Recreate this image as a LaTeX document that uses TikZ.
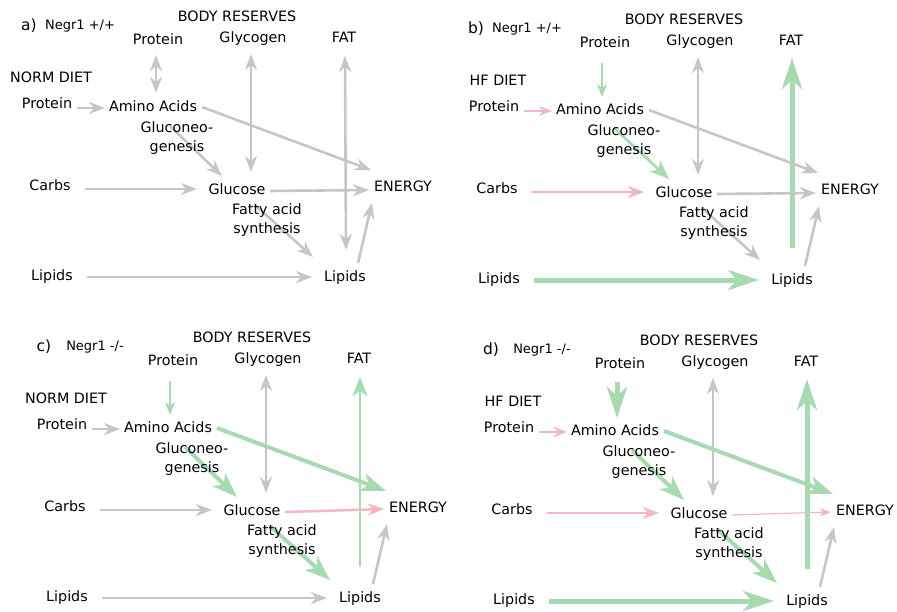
\documentclass[tikz,border=0pt]{standalone}
\usepackage{fontspec}
\setmainfont{DejaVu Sans}
\usetikzlibrary{arrows.meta,calc,backgrounds}
\definecolor{gr}{HTML}{C6C6C6}
\definecolor{gn}{HTML}{A8DAB2}
\definecolor{pk}{HTML}{F5B7BF}
\tikzset{
  lbl/.style={inner sep=0pt, text height=10.4pt, text depth=3.2pt, font=\fontsize{14.3}{17}\selectfont},
  two/.style={inner sep=0pt, align=center, font=\fontsize{14.3}{18.5}\selectfont},
  gar/.style={draw=gr, line width=2.6pt, -{Stealth[length=16pt,width=12pt,inset=5pt]}},
  gar2/.style={draw=gr, line width=2.6pt, {Stealth[length=16pt,width=12pt,inset=5pt]}-{Stealth[length=16pt,width=12pt,inset=5pt]}},
  gnthin/.style={draw=gn, line width=2pt, -{Stealth[length=13pt,width=10pt,inset=4pt]}},
  pkthin/.style={draw=pk, line width=2pt, -{Stealth[length=13pt,width=10pt,inset=4pt]}},
  pkmed/.style={draw=pk, line width=2.5pt, -{Stealth[length=16pt,width=12pt,inset=5pt]}},
  pkfine/.style={draw=pk, line width=1.2pt, -{Stealth[length=11pt,width=8pt,inset=3pt]}},
  gnmed/.style={draw=gn, line width=2.7pt, -{Stealth[length=19pt,width=15pt,inset=5pt]}},
  gnthick/.style={draw=gn, line width=4pt, -{Stealth[length=25pt,width=18pt,inset=7pt]}},
  gnbig/.style={draw=gn, line width=5pt, -{Stealth[length=31pt,width=20pt,inset=9pt]}},
}
\newcommand\panelnodes[3]{%
  \node[font=\fontsize{15.5}{17}\selectfont, inner sep=0pt] (lab) at (29,26) {#1};
  \node[font=\fontsize{13}{15}\selectfont, inner sep=0pt] (ttl) at (80,26) {#2};
  \node[lbl] (BR) at (237,18) {BODY RESERVES};
  \node[lbl] (PR) at (158,41) {Protein};
  \node[lbl] (GY) at (253,39) {Glycogen};
  \node[lbl] (FAT) at (344,39) {FAT};
  \node[lbl] (DIET) at (51,79) {#3};
  \node[lbl] (PD) at (47,105) {Protein};
  \node[lbl] (AA) at (153,108) {Amino Acids};
  \node[two] (GN) at (177,138) {Gluconeo-\\genesis};
  \node[lbl] (CB) at (50,187) {Carbs};
  \node[lbl] (GL) at (237,191) {Glucose};
  \node[lbl] (EN) at (403,188) {ENERGY};
  \node[two] (FA) at (267,220) {Fatty acid\\synthesis};
  \node[lbl] (LD) at (52,277) {Lipids};
  \node[lbl] (LR) at (345,278) {Lipids};
}
\begin{document}
\begin{tikzpicture}[x=1pt,y=-1pt]
\begin{pgfonlayer}{background}
\fill[white] (0,0) rectangle (897,611);
\end{pgfonlayer}
\useasboundingbox (0,0) rectangle (897,611);

% ---------- panel a ----------
\begin{scope}[shift={(0,0)}, name prefix=a-]
\panelnodes{a)}{Negr1 +/+}{NORM DIET}
\begin{pgfonlayer}{background}
\draw[gar2] ($(PR)+(-2,14)$) -- ($(AA)+(3,-15)$);
\draw[gar2] ($(GY)+(-2,15)$) -- ($(GL)+(14,-19)$);
\draw[gar2] ($(FAT)+(1,17)$) -- ($(LR)+(1,-28)$);
\draw[gar] ($(PD)+(30,3)$) -- ($(AA)+(-48,0)$);
\draw[gar] ($(AA)+(49,-1)$) -- ($(EN)+(-32,-18)$);
\draw[gar] ($(AA)+(17,18)$) -- ($(GL)+(-15,-15)$);
\draw[gar] ($(CB)+(35,2)$) -- ($(GL)+(-40,-2)$);
\draw[gar] ($(GL)+(33,0)$) -- ($(EN)+(-34,2)$);
\draw[gar] ($(GL)+(18,14)$) -- ($(LR)+(-32,-21)$);
\draw[gar] ($(LD)+(35,0)$) -- ($(LR)+(-33,-1)$);
\draw[gar] ($(LR)+(13,-15)$) -- ($(EN)+(-31,15)$);
\end{pgfonlayer}
\end{scope}

% ---------- panel b ----------
\begin{scope}[shift={(447,3)}, name prefix=b-]
\panelnodes{b)}{Negr1 +/+}{HF DIET}
\begin{pgfonlayer}{background}
\draw[gnthin] ($(PR)+(-3,19)$) -- ($(AA)+(2,-14)$);
\draw[gar2] ($(GY)+(-2,15)$) -- ($(GL)+(14,-19)$);
\draw[gnbig] ($(LR)+(0,-33)$) -- ($(FAT)+(1,16)$);
\draw[pkthin] ($(PD)+(30,3)$) -- ($(AA)+(-48,0)$);
\draw[gar] ($(AA)+(49,-1)$) -- ($(EN)+(-32,-18)$);
\draw[gnmed] ($(AA)+(14,17)$) -- ($(GL)+(-15,-15)$);
\draw[pkmed] ($(CB)+(35,2)$) -- ($(GL)+(-40,-2)$);
\draw[gar] ($(GL)+(33,0)$) -- ($(EN)+(-34,2)$);
\draw[gar] ($(GL)+(18,14)$) -- ($(LR)+(-32,-21)$);
\draw[gnbig] ($(LD)+(35,0)$) -- ($(LR)+(-33,-1)$);
\draw[gar] ($(LR)+(13,-15)$) -- ($(EN)+(-31,15)$);
\end{pgfonlayer}
\end{scope}

% ---------- panel c ----------
\begin{scope}[shift={(15,321)}, name prefix=c-]
\panelnodes{c)}{Negr1 -/-}{NORM DIET}
\begin{pgfonlayer}{background}
\draw[gnthin] ($(PR)+(-3,19)$) -- ($(AA)+(2,-14)$);
\draw[gar2] ($(GY)+(-2,15)$) -- ($(GL)+(14,-19)$);
\draw[gnmed] ($(LR)+(0,-33)$) -- ($(FAT)+(1,17)$);
\draw[gar] ($(PD)+(30,3)$) -- ($(AA)+(-48,0)$);
\draw[gnthick] ($(AA)+(49,-1)$) -- ($(EN)+(-32,-18)$);
\draw[gnthick] ($(AA)+(17,18)$) -- ($(GL)+(-15,-15)$);
\draw[gar] ($(CB)+(35,2)$) -- ($(GL)+(-40,-2)$);
\draw[pkmed] ($(GL)+(33,0)$) -- ($(EN)+(-34,0)$);
\draw[gnthick] ($(GL)+(18,14)$) -- ($(LR)+(-30,-19)$);
\draw[gar] ($(LD)+(35,0)$) -- ($(LR)+(-33,-1)$);
\draw[gar] ($(LR)+(13,-15)$) -- ($(EN)+(-31,15)$);
\end{pgfonlayer}
\end{scope}

% ---------- panel d ----------
\begin{scope}[shift={(462,324)}, name prefix=d-]
\panelnodes{d)}{Negr1 -/-}{HF DIET}
\begin{pgfonlayer}{background}
\draw[gnbig] ($(PR)+(-3,17)$) -- ($(AA)+(2,-14)$);
\draw[gar2] ($(GY)+(-2,15)$) -- ($(GL)+(14,-19)$);
\draw[gnbig] ($(LR)+(0,-33)$) -- ($(FAT)+(1,16)$);
\draw[pkthin] ($(PD)+(30,3)$) -- ($(AA)+(-48,0)$);
\draw[gnthick] ($(AA)+(49,-1)$) -- ($(EN)+(-32,-18)$);
\draw[gnthick] ($(AA)+(17,18)$) -- ($(GL)+(-15,-15)$);
\draw[pkmed] ($(CB)+(35,2)$) -- ($(GL)+(-40,-2)$);
\draw[pkfine] ($(GL)+(33,0)$) -- ($(EN)+(-34,0)$);
\draw[gnthick] ($(GL)+(18,14)$) -- ($(LR)+(-30,-19)$);
\draw[gnbig] ($(LD)+(35,0)$) -- ($(LR)+(-33,-1)$);
\draw[gar] ($(LR)+(13,-15)$) -- ($(EN)+(-31,15)$);
\end{pgfonlayer}
\end{scope}
\end{tikzpicture}
\end{document}
